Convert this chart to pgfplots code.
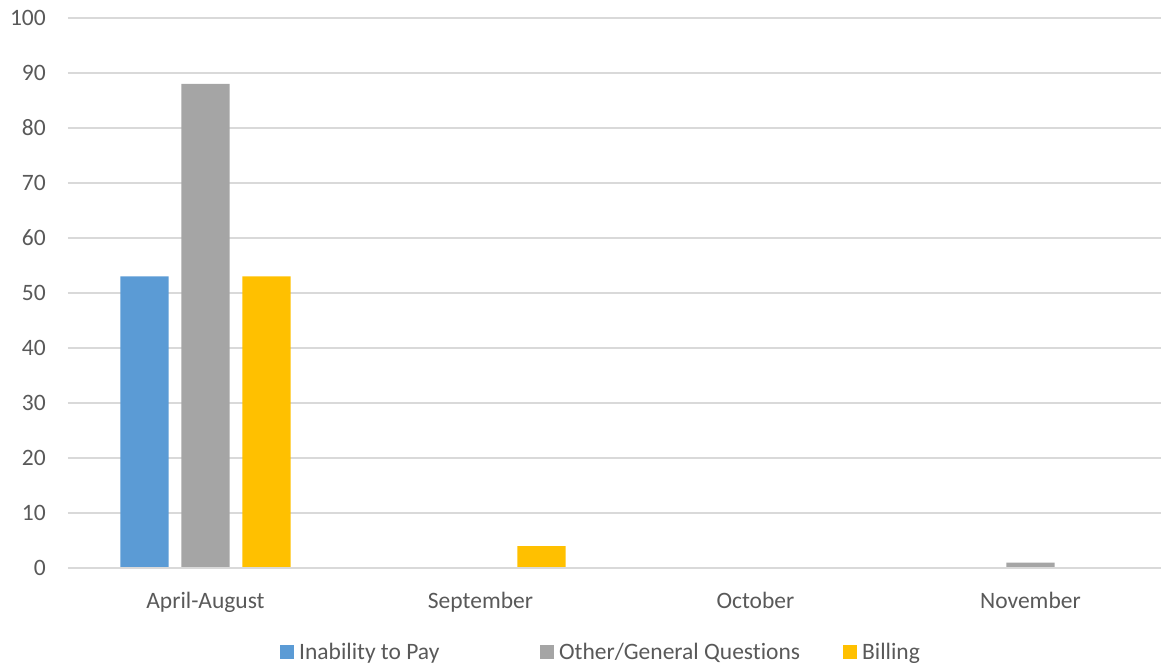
\documentclass[border=0pt]{standalone}
\usepackage{pgfplots}
\pgfplotsset{compat=1.18}
\usepackage{fontspec}
\setmainfont{Carlito}[Ligatures={NoCommon}]
\definecolor{cblue}{HTML}{5B9BD5}
\definecolor{cgray}{HTML}{A5A5A5}
\definecolor{cgold}{HTML}{FFC000}
\definecolor{ctext}{HTML}{595959}
\definecolor{cgrid}{HTML}{D9D9D9}
\begin{document}
\begin{tikzpicture}[font=\fontsize{23.5bp}{28bp}\selectfont]
\begin{axis}[
  name=ax,
  scale only axis,
  width=1100bp, height=550bp,
  xmin=-0.5, xmax=3.5,
  ymin=0, ymax=100,
  ytick={0,10,...,100},
  xtick=data,
  xticklabels={April-August,September,October,November},
  ybar, bar width=0.175,
  axis line style={draw=none},
  ymajorgrids, major grid style={cgrid, line width=1.3bp},
  major tick length=0pt,
  tick label style={text=ctext, inner sep=0pt},
  yticklabel style={anchor=east, xshift=-22bp},
  xticklabel style={anchor=base, yshift=-40bp},
  /pgf/number format/assume math mode=true,
  legend columns=-1,
  legend style={draw=none, fill=none, inner sep=0pt, anchor=west,
    at={(rel axis cs:0.1927,-0.1527)},
    nodes={inner sep=0pt, anchor=west, text=ctext},
    /tikz/every odd column/.append style={column sep=5bp}},
  legend image code/.code={\fill[#1] (0bp,-7bp) rectangle (14bp,7bp);},
]
\addplot[fill=cblue, draw=none, bar shift=-0.222] coordinates {(0,53) (1,0) (2,0) (3,0)};
\addplot[fill=cgray, draw=none, bar shift=0] coordinates {(0,88) (1,0) (2,0) (3,1)};
\addplot[fill=cgold, draw=none, bar shift=0.222] coordinates {(0,53) (1,4) (2,0) (3,0)};
\draw[cgrid, line width=1.3bp] (rel axis cs:0,0) -- (rel axis cs:1,0);
\legend{\makebox[241bp][l]{Inability to Pay},\makebox[284bp][l]{Other/General Questions},Billing}
\end{axis}
\pgfresetboundingbox
\path (-68bp,-101bp) rectangle (1093bp,568bp);
\end{tikzpicture}
\end{document}
